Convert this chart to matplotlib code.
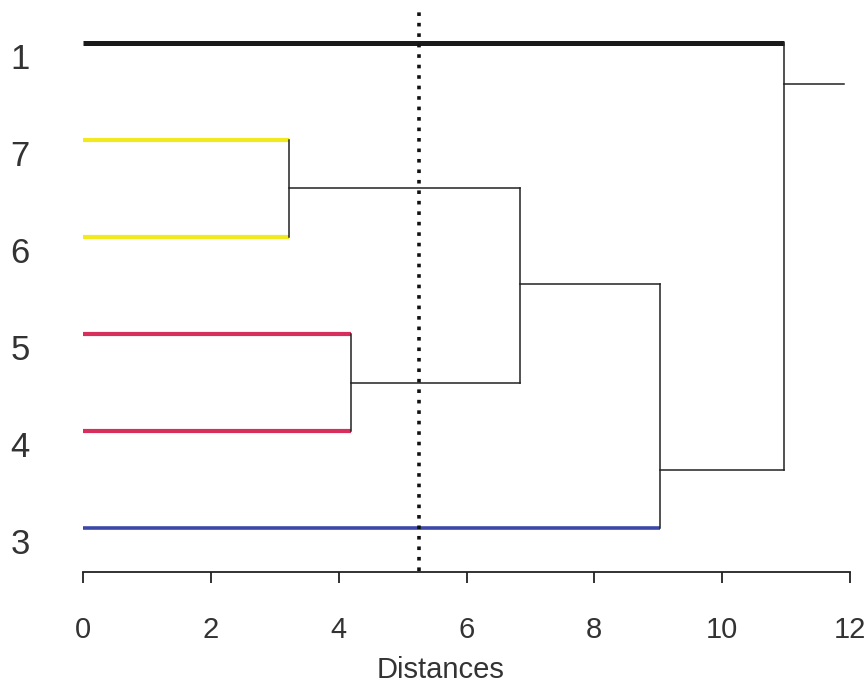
import matplotlib
matplotlib.use("Agg")
import matplotlib.pyplot as plt

plt.rcParams['font.family'] = ['Liberation Sans', 'DejaVu Sans']

# Leaves, top to bottom
leaf_labels = ['1', '7', '6', '5', '4', '3']
leaf_y = [6, 5, 4, 3, 2, 1]
leaf_colors = ['#1a1a1a', '#f2ea1e', '#f2ea1e', '#d62f5c', '#d62f5c', '#3b48a8']
leaf_widths = [3.6, 3.0, 3.0, 3.0, 3.0, 2.6]

# Merges: (left child, right child, height, node y)
# children: leaf index as int, merge index as 'mN'
merge_children = [(1, 2), (3, 4), ('m0', 'm1'), ('m2', 5), (0, 'm3')]
merge_heights = [3.22, 4.20, 6.84, 9.03, 10.96]
merge_node_y = [4.5, 2.5, 3.52, 1.6, 5.58]
root_end = 11.9
cut_height = 5.25

x_ticks = [0, 2, 4, 6, 8, 10, 12]
x_label = 'Distances'

fig = plt.figure(figsize=(8.67, 6.84), dpi=100)
ax = fig.add_axes([83 / 867, (684 - 572) / 684, 767 / 867, 572 / 684])
ax.set_xlim(0, 12)
ax.set_ylim(0.55, 6.44)

# find parent height of each child
parent_h = {}
for i, (a, b) in enumerate(merge_children):
    parent_h[a] = merge_heights[i]
    parent_h[b] = merge_heights[i]
parent_h['m4'] = root_end

def node_y(c):
    if isinstance(c, int):
        return leaf_y[c]
    return merge_node_y[int(c[1:])]

# leaf lines
for i in range(len(leaf_labels)):
    ax.plot([0, parent_h[i]], [leaf_y[i], leaf_y[i]], color=leaf_colors[i],
            lw=leaf_widths[i], solid_capstyle='butt', zorder=2)
    ax.text(-0.98, leaf_y[i] - 0.17, leaf_labels[i], fontsize=25, ha='center',
            va='center', color='#333333', clip_on=False)

# merge lines
for i, (a, b) in enumerate(merge_children):
    h = merge_heights[i]
    ax.plot([h, h], [node_y(a), node_y(b)], color='#222222', lw=1.1, zorder=2)
    ax.plot([h, parent_h['m%d' % i]], [merge_node_y[i]] * 2, color='#222222',
            lw=1.1, zorder=2)

# cut line
ax.plot([cut_height, cut_height], [0.56, 6.34], color='#111111', lw=2.6,
        linestyle=(0, (1, 1.9)), zorder=3)

for s in ['top', 'right', 'left']:
    ax.spines[s].set_visible(False)
ax.spines['bottom'].set_bounds(0, 12)
ax.spines['bottom'].set_linewidth(1.3)
ax.spines['bottom'].set_color('#222222')
ax.set_yticks([])
ax.set_xticks(x_ticks)
ax.tick_params(axis='x', length=8, width=1.3, pad=24, labelsize=21,
               labelcolor='#333333', color='#222222')
ax.set_xlabel(x_label, fontsize=21, color='#333333')
ax.xaxis.set_label_coords(0.466, -0.146)

fig.savefig('out.png', dpi=100)
